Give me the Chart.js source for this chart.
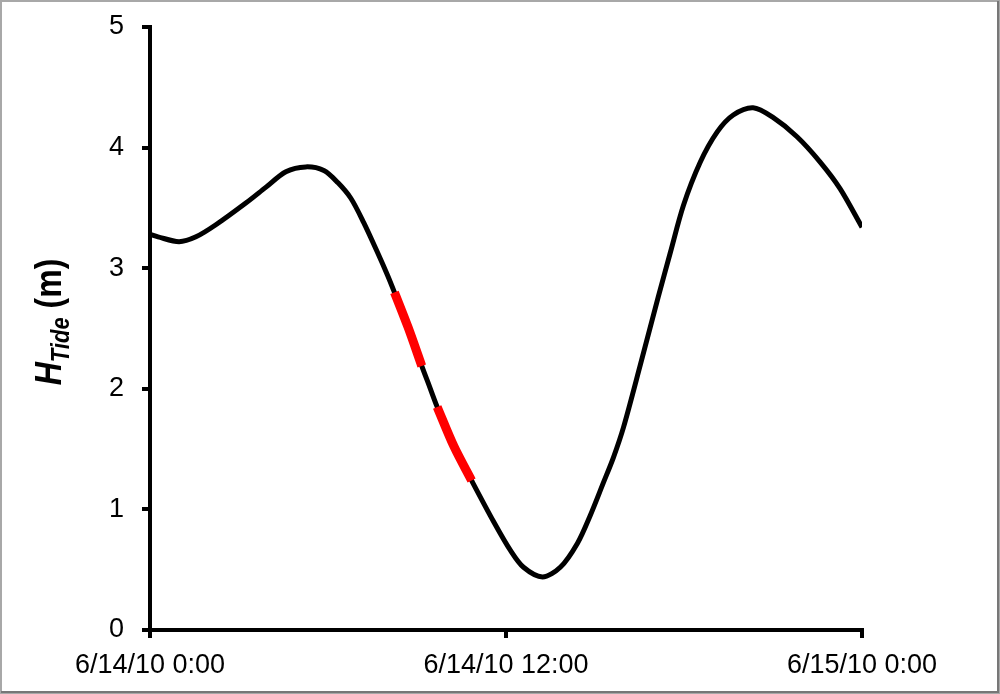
<!DOCTYPE html>
<html>
<head>
<meta charset="utf-8">
<script src="https://cdn.jsdelivr.net/npm/chart.js@4.4.1/dist/chart.umd.min.js"></script>
<style>
  body { margin: 0; background: #fff; }
  canvas { display: block; }
</style>
</head>
<body>
<canvas id="tide-chart" width="1000" height="694"></canvas>
<script>
// hours since 6/14/10 0:00 and tide height (m)
const hours = [0, 0.27, 0.98, 1.55, 2.22, 3.23, 3.90, 4.58, 5.25, 5.86, 6.33, 6.77, 7.20, 7.67, 8.01,
    8.24, 8.70, 9.16, 9.42, 9.68, 10.25, 10.84, 11.58, 12.15, 12.59, 13.23, 13.83, 14.41, 14.84,
    15.28, 15.62, 15.96, 16.53, 17.13, 17.54, 17.98, 18.55, 19.12, 19.66, 20.33, 21.0, 21.81, 22.59, 23.26, 24.0];
const tide = [3.28, 3.26, 3.22, 3.26, 3.36, 3.54, 3.67, 3.80, 3.84, 3.81, 3.71, 3.58, 3.38, 3.13, 2.94,
    2.80, 2.51, 2.19, 2.02, 1.85, 1.52, 1.24, 0.90, 0.66, 0.52, 0.44, 0.52, 0.72, 0.95,
    1.22, 1.43, 1.68, 2.20, 2.76, 3.13, 3.52, 3.88, 4.13, 4.27, 4.33, 4.25, 4.09, 3.88, 3.66, 3.34];

// highlighted (red) stretches of the falling tide
const red1Hours = [8.24, 8.70, 9.16];
const red1Tide = [2.80, 2.51, 2.19];
const red2Hours = [9.68, 10.25, 10.84];
const red2Tide = [1.85, 1.52, 1.24];

const xTickLabels = ['6/14/10 0:00', '6/14/10 12:00', '6/15/10 0:00'];
const yTicks = [0, 1, 2, 3, 4, 5];

function toPoints(xs, ys) {
    return xs.map((x, i) => ({ x: x, y: ys[i] }));
}

const FONT = "'Liberation Sans', Arial, sans-serif";

// white background, frame round the picture and the y axis title
const decor = {
    id: 'decor',
    beforeDraw(chart) {
        const ctx = chart.ctx;
        ctx.save();
        ctx.fillStyle = '#fff';
        ctx.fillRect(0, 0, chart.width, chart.height);
        ctx.restore();
    },
    afterDraw(chart) {
        const ctx = chart.ctx;
        ctx.save();
        ctx.strokeStyle = '#a8a8a8';
        ctx.lineWidth = 2;
        ctx.strokeRect(1, 1, chart.width - 2, chart.height - 2);
        ctx.strokeStyle = '#777';
        ctx.beginPath();
        ctx.moveTo(chart.width - 2, 1);
        ctx.lineTo(chart.width - 2, chart.height - 2);
        ctx.lineTo(1, chart.height - 2);
        ctx.stroke();

        // "H_Tide (m)" rotated
        ctx.translate(61, 322);
        ctx.scale(1.15, 1);
        ctx.rotate(-Math.PI / 2);
        ctx.fillStyle = '#000';
        ctx.textBaseline = 'alphabetic';
        const parts = [
            { t: 'H', f: 'italic bold 32px ' + FONT, dy: 0 },
            { t: 'Tide', f: 'italic bold 22px ' + FONT, dy: 7 },
            { t: ' (m)', f: 'bold 32px ' + FONT, dy: 0 }
        ];
        let total = 0;
        parts.forEach(p => { ctx.font = p.f; p.w = ctx.measureText(p.t).width; total += p.w; });
        let x = -total / 2;
        parts.forEach(p => {
            ctx.font = p.f;
            ctx.fillText(p.t, x, p.dy);
            x += p.w;
        });
        ctx.restore();
    }
};

new Chart(document.getElementById('tide-chart'), {
    type: 'line',
    data: {
        datasets: [{
            data: toPoints(hours, tide),
            borderColor: '#000',
            borderWidth: 5,
            pointRadius: 0,
            tension: 0.3,
            order: 2
        }, {
            data: toPoints(red1Hours, red1Tide),
            borderColor: '#ff0000',
            borderWidth: 9,
            borderCapStyle: 'butt',
            pointRadius: 0,
            tension: 0.3,
            order: 1
        }, {
            data: toPoints(red2Hours, red2Tide),
            borderColor: '#ff0000',
            borderWidth: 9,
            borderCapStyle: 'butt',
            pointRadius: 0,
            tension: 0.3,
            order: 1
        }]
    },
    options: {
        responsive: false,
        animation: false,
        devicePixelRatio: 1,
        layout: { padding: { top: 27, right: 138, bottom: 0, left: 0 } },
        plugins: { legend: { display: false }, tooltip: { enabled: false } },
        scales: {
            x: {
                type: 'linear',
                min: 0,
                max: 24,
                afterFit: s => { s.height = 64; },
                afterBuildTicks: s => { s.ticks = [0, 12, 24].map(v => ({ value: v })); },
                border: { display: true, color: '#000', width: 4 },
                grid: { drawOnChartArea: false, drawTicks: true, tickLength: 8, lineWidth: 4, color: '#000' },
                ticks: {
                    color: '#000',
                    font: { family: FONT, size: 27 },
                    padding: 11,
                    maxRotation: 0,
                    autoSkip: false,
                    callback: (v) => xTickLabels[v / 12]
                }
            },
            y: {
                min: 0,
                max: 5,
                afterFit: s => { s.width = 150; s.paddingTop = 0; s.paddingBottom = 0; },
                afterBuildTicks: s => { s.ticks = yTicks.map(v => ({ value: v })); },
                border: { display: true, color: '#000', width: 4 },
                grid: { drawOnChartArea: false, drawTicks: true, tickLength: 8, lineWidth: 4, color: '#000' },
                ticks: {
                    color: '#000',
                    font: { family: FONT, size: 27, lineHeight: 1 },
                    padding: 18
                }
            }
        }
    },
    plugins: [decor]
});
</script>
</body>
</html>
